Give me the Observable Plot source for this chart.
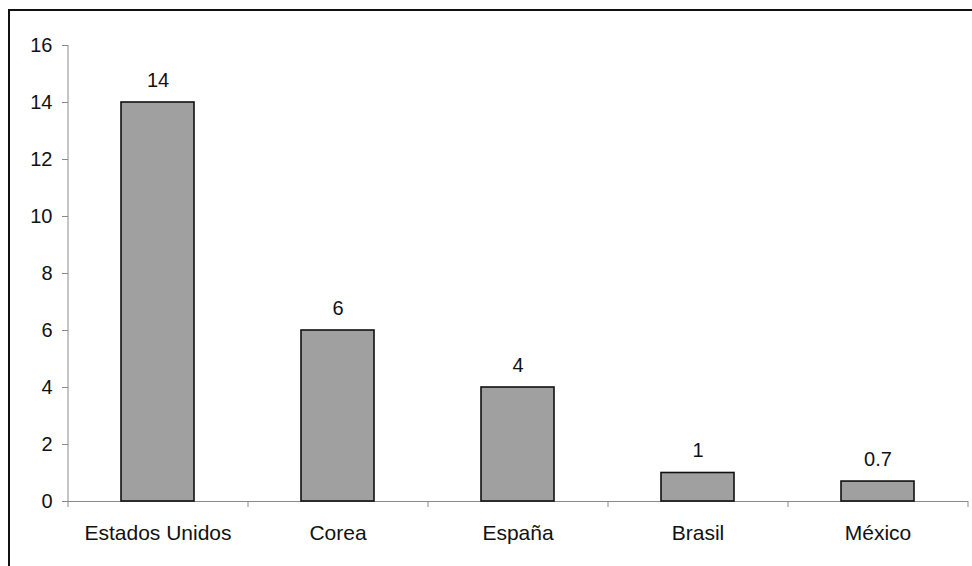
<!DOCTYPE html>
<html>
<head>
<meta charset="utf-8">
<script src="https://cdn.jsdelivr.net/npm/d3@7"></script>
<script src="https://cdn.jsdelivr.net/npm/@observablehq/plot@0.6"></script>
<style>
  html, body { margin: 0; padding: 0; background: #fff; overflow: hidden; }
  #wrap { position: relative; width: 972px; height: 566px; }
  #border { position: absolute; left: 8px; top: 9px; width: 990px; height: 600px; border: 2px solid #111; box-sizing: border-box; pointer-events: none; }
  svg { font-family: "Liberation Sans", Arial, sans-serif; }
</style>
</head>
<body>
<div id="wrap"><div id="border"></div></div>
<script>
const categories = ["Estados Unidos", "Corea", "España", "Brasil", "México"];
const values = [14, 6, 4, 1, 0.7];
const valueLabels = ["14", "6", "4", "1", "0.7"];
const yTicks = [0, 2, 4, 6, 8, 10, 12, 14, 16];

const data = categories.map((c, i) => ({country: c, value: values[i], label: valueLabels[i]}));

const axisGray = "#8a8a8a";
const step = (972 - 68 - 4) / categories.length;

const chart = Plot.plot({
  width: 972,
  height: 566,
  marginLeft: 68,
  marginRight: 4,
  marginTop: 45,
  marginBottom: 65,
  style: {fontFamily: "Liberation Sans, Arial, sans-serif", color: "#111", background: "transparent"},
  x: {type: "band", domain: categories, paddingInner: 0.594, paddingOuter: 0.297, label: null},
  y: {domain: [0, 16], label: null},
  marks: [
    Plot.axisY({ticks: yTicks, tickSize: 6, tickPadding: 10, stroke: axisGray, fontSize: 20, fill: "#111", label: null}),
    Plot.axisX({tickSize: 0, tickPadding: 24, fontSize: 21, fill: "#111", label: null}),
    // y axis line
    Plot.ruleX([categories[0]], {x: d => d, dx: -step / 2, y1: 0, y2: 16, stroke: axisGray}),
    // x axis line
    Plot.ruleY([0], {stroke: axisGray}),
    // category boundary ticks
    Plot.ruleX(categories, {x: d => d, dx: -step / 2, y1: 0, y2: 0, insetBottom: -6, stroke: axisGray}),
    Plot.ruleX([categories[categories.length - 1]], {x: d => d, dx: step / 2, y1: 0, y2: 0, insetBottom: -6, stroke: axisGray}),
    Plot.barY(data, {x: "country", y: "value", fill: "#a0a0a0", stroke: "#111", strokeWidth: 1.6}),
    Plot.text(data, {x: "country", y: "value", text: "label", dy: -16, lineAnchor: "bottom", fontSize: 20, fill: "#111"})
  ]
});
document.getElementById("wrap").prepend(chart);
</script>
</body>
</html>
